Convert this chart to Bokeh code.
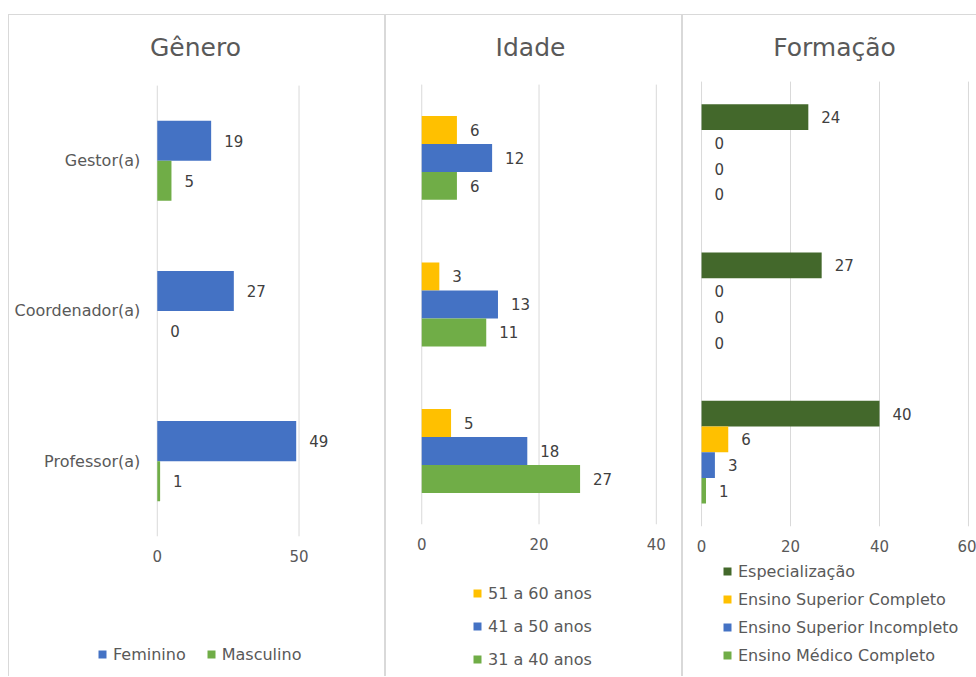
from bokeh.plotting import figure
from bokeh.models import (Range1d, FixedTicker, Legend, LegendItem, Label,
                          ColumnDataSource)
from bokeh.transform import dodge
from bokeh.layouts import row
from bokeh.embed import file_html
from bokeh.resources import INLINE
from bokeh.core.properties import value

# ---- data -------------------------------------------------------------
categories = ["Gestor(a)", "Coordenador(a)", "Professor(a)"]

genero_names = ["Feminino", "Masculino"]
feminino = [19, 27, 49]
masculino = [5, 0, 1]

idade_names = ["51 a 60 anos", "41 a 50 anos", "31 a 40 anos"]
idade_51_60 = [6, 3, 5]
idade_41_50 = [12, 13, 18]
idade_31_40 = [6, 11, 27]

formacao_names = ["Especialização", "Ensino Superior Completo",
                  "Ensino Superior Incompleto", "Ensino Médico Completo"]
especializacao = [24, 27, 40]
superior_completo = [0, 0, 6]
superior_incompleto = [0, 0, 3]
medio_completo = [0, 0, 1]

genero_ticks = [0, 50]
idade_ticks = [0, 20, 40]
formacao_ticks = [0, 20, 40, 60]

# ---- style ------------------------------------------------------------
FONT = "DejaVu Sans"
BLUE = "#4472C4"
GREEN = "#70AD47"
GOLD = "#FFC000"
DARK_GREEN = "#43682B"
GRID = "#D9D9D9"
AXIS_TEXT = "#595959"
LABEL_TEXT = "#404040"

PANEL_H = 662              # element height, top border included
CANVAS_TOP = 15            # page y of the canvas top (margin + border)
CANVAS_H = PANEL_H - 1
CANVAS_BOTTOM = CANVAS_TOP + CANVAS_H
TITLE_Y = 46               # page y of the title centres

# category positions on the value axis, top category first
n_cat = len(categories)
cat_pos = [n_cat - 1 - i for i in range(n_cat)]


def make_panel(title, title_cx, names, series, colors, ticks, bar_h, width,
               canvas_left, zero_px, tick_end_px, area, show_categories,
               legend_opts, css):
    canvas_w = width - (2 if css.get("border-right") else 1)

    # x scale from the pixel span of the tick range
    ppu = (tick_end_px - zero_px) / (ticks[-1] - ticks[0])
    x_start = (canvas_left - zero_px) / ppu
    x_end = (canvas_left + canvas_w - zero_px) / ppu

    # y scale: the category area [-0.5, n-0.5] covers the area pixels
    a_top, a_bot = area
    s = n_cat / (a_bot - a_top)
    y_end = (n_cat - 0.5) + (a_top - CANVAS_TOP) * s
    y_start = -0.5 - (CANVAS_BOTTOM - a_bot) * s

    p = figure(width=width, height=PANEL_H,
               x_range=Range1d(x_start, x_end), y_range=Range1d(y_start, y_end),
               output_backend="svg", toolbar_location=None, min_border=0)
    p.styles = css
    p.outline_line_color = None
    p.background_fill_color = "white"
    p.border_fill_color = "white"
    p.xgrid.visible = False
    p.ygrid.visible = False

    # vertical gridlines over the category area
    p.segment(x0=ticks, x1=ticks, y0=[-0.5] * len(ticks),
              y1=[n_cat - 0.5] * len(ticks), line_color=GRID, line_width=1)

    n = len(names)
    items = []
    for i, (name, vals, col) in enumerate(zip(names, series, colors)):
        src = ColumnDataSource(dict(pos=cat_pos, val=vals,
                                    lbl=[str(v) for v in vals]))
        off = ((n - 1) / 2 - i) * bar_h
        ypos = dodge("pos", off)
        r = p.hbar(y=ypos, left=0, right="val", height=bar_h, source=src,
                   fill_color=col, line_color=None)
        p.text(x="val", y=ypos, text="lbl", source=src, x_offset=13,
               text_baseline="middle", text_align="left",
               text_font=value(FONT), text_font_size="15px",
               text_color=LABEL_TEXT)
        items.append(LegendItem(label=name, renderers=[r]))

    xa = p.xaxis[0]
    xa.fixed_location = -0.5
    xa.ticker = FixedTicker(ticks=ticks)
    xa.axis_line_color = None
    xa.major_tick_line_color = None
    xa.minor_tick_line_color = None
    xa.major_tick_out = 0
    xa.major_tick_in = 0
    xa.major_label_standoff = 14
    xa.major_label_text_font = FONT
    xa.major_label_text_font_size = "15px"
    xa.major_label_text_color = AXIS_TEXT

    ya = p.yaxis[0]
    if show_categories:
        ya.fixed_location = 0
        ya.ticker = FixedTicker(ticks=cat_pos)
        ya.major_label_overrides = {pos: cat for pos, cat in zip(cat_pos, categories)}
        ya.axis_line_color = None
        ya.major_tick_line_color = None
        ya.minor_tick_line_color = None
        ya.major_tick_out = 0
        ya.major_tick_in = 0
        ya.major_label_standoff = 17
        ya.major_label_text_font = FONT
        ya.major_label_text_font_size = "16px"
        ya.major_label_text_color = AXIS_TEXT
    else:
        ya.visible = False

    p.add_layout(Label(text=title, x=title_cx - canvas_left,
                       y=CANVAS_BOTTOM - TITLE_Y,
                       x_units="screen", y_units="screen",
                       text_align="center", text_baseline="middle",
                       text_font=FONT, text_font_size="25px",
                       text_color=AXIS_TEXT))

    legend = Legend(items=items, glyph_width=10, glyph_height=10,
                    label_standoff=6, padding=0, margin=0,
                    border_line_color=None, background_fill_alpha=0,
                    label_text_font=FONT, label_text_font_size="16px",
                    label_text_color=AXIS_TEXT, label_height=20,
                    **legend_opts)
    p.add_layout(legend)
    return p


border_all = {"border-left": f"1px solid {GRID}", "border-top": f"1px solid {GRID}",
              "border-right": f"1px solid {GRID}", "margin-top": "14px"}
border_open = {"border-left": f"1px solid {GRID}", "border-top": f"1px solid {GRID}",
               "margin-top": "14px"}

p1 = make_panel("Gênero", 195, genero_names, [feminino, masculino], [BLUE, GREEN],
                genero_ticks, 0.2667, 377, 9, 156, 297, (85, 535), True,
                dict(orientation="horizontal", spacing=20,
                     location=(97 - 9, CANVAS_BOTTOM - 663)),
                dict(border_all, **{"margin-left": "8px"}))

p2 = make_panel("Idade", 530, idade_names, [idade_51_60, idade_41_50, idade_31_40],
                [GOLD, BLUE, GREEN], idade_ticks, 0.191, 297, 386, 421, 654,
                (84, 523), False,
                dict(orientation="vertical", spacing=13,
                     location=(472 - 386, CANVAS_BOTTOM - 668)),
                border_all)

p3 = make_panel("Formação", 834, formacao_names,
                [especializacao, superior_completo, superior_incompleto, medio_completo],
                [DARK_GREEN, GOLD, BLUE, GREEN], formacao_ticks, 0.1735, 294, 683,
                701, 967, (81, 525), False,
                dict(orientation="vertical", spacing=8,
                     location=(722 - 683, CANVAS_BOTTOM - 664)),
                border_open)

layout = row(p1, p2, p3)
open("out.html", "w").write(file_html(layout, INLINE))
